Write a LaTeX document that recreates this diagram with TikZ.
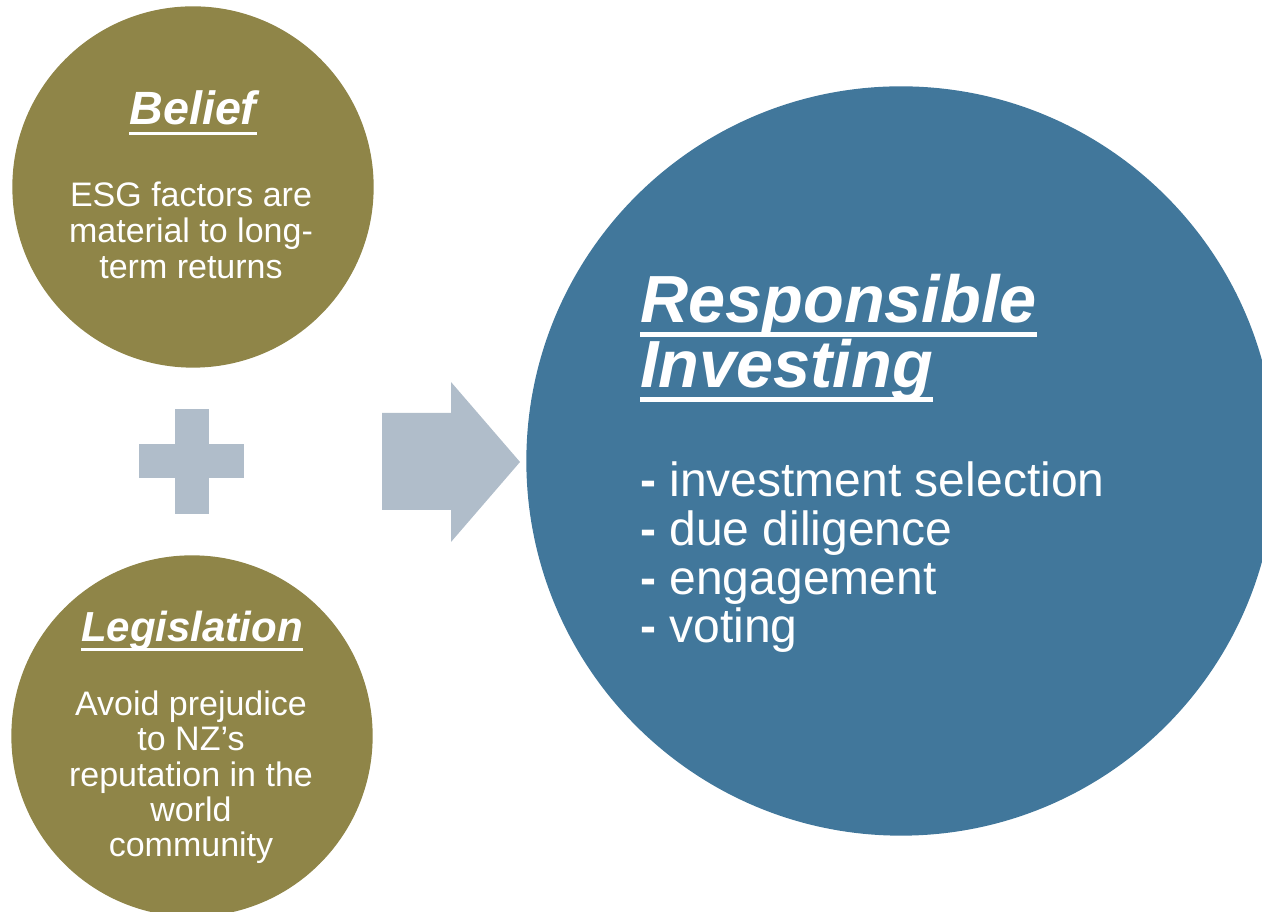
\documentclass[tikz,border=0pt]{standalone}
\usepackage{fontspec}
\setmainfont{Liberation Sans}
\usetikzlibrary{positioning}

\definecolor{ringOlive}{HTML}{8F8548}
\definecolor{ringBlue}{HTML}{41779B}
\definecolor{signGrey}{HTML}{B0BDCA}

% underline that sits a little below the baseline
\newsavebox\ulbox
\newcommand{\ulined}[1]{\sbox\ulbox{#1}\rlap{\rule[-0.21em]{\wd\ulbox}{0.07em}}\usebox\ulbox}
\newcommand{\dash}{\textbf{-}}

\begin{document}
\begin{tikzpicture}[x=0.75pt, y=0.75pt,
        ball/.style={circle, inner sep=0pt},
        heading/.style 2 args={text=white, inner sep=0pt, font=\bfseries\itshape\fontsize{#1}{#2}\selectfont},
        body/.style 2 args={text=white, inner sep=0pt, font=\fontsize{#1}{#2}\selectfont}]
        \clip (0,0) rectangle (1262,912);

        % Circles
        \node[ball, fill=ringOlive, minimum size=271pt] (belief) at (193,725) {};
        \node[ball, fill=ringOlive, minimum size=271pt] (law) at (192,176) {};
        \node[ball, fill=ringBlue, minimum size=562pt] (ri) at (901,451) {};

        % Belief (multi-line nodes sit on their last baseline)
        \node[heading={35}{40}, anchor=base] (belief title) at (193,787) {\ulined{Belief}};
        \node[body={25.5}{27}, align=center, anchor=base] (belief text) at (191,633)
            {ESG factors are\\material to long-\\term returns};

        % Legislation
        \node[heading={31.5}{36}, anchor=base] (law title) at (192,270) {\ulined{Legislation}};
        \node[body={25.5}{26.6}, align=center, anchor=base] (law text) at (191,55)
            {Avoid prejudice\\to NZ’s\\reputation in the\\world\\community};

        % Responsible Investing
        \node[heading={50}{48.75}, align=left, anchor=base west] (ri title) at (640,524)
            {\ulined{Responsible}\\\ulined{Investing}};
        \node[body={36}{36.5}, align=left, anchor=base west] (ri list) at (640,269)
            {\dash{} investment selection\\\dash{} due diligence\\\dash{} engagement\\\dash{} voting};

        % Plus sign
        \fill[signGrey] (175,398) rectangle (209,503);
        \fill[signGrey] (139,434) rectangle (244,468);

        % Arrow
        \fill[signGrey] (382,402) -- (451,402) -- (451,370) -- (520,450)
            -- (451,530) -- (451,499) -- (382,499) -- cycle;
    \end{tikzpicture}
\end{document}
